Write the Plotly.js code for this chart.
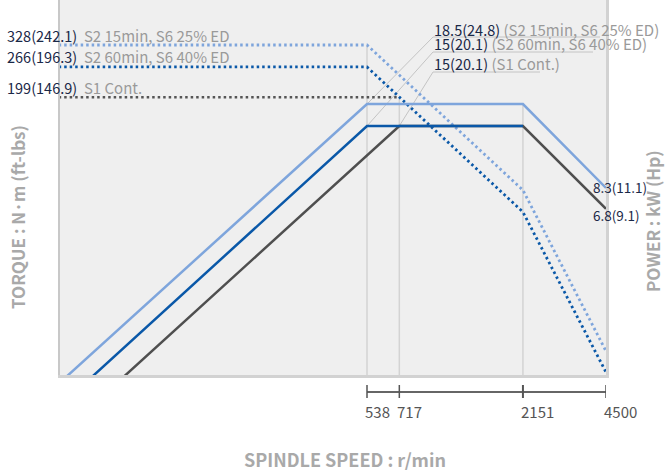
<!DOCTYPE html>
<html>
<head>
<meta charset="utf-8">
<script src="https://cdn.plot.ly/plotly-3.0.1.min.js"></script>
<style>html,body{margin:0;padding:0;background:#fff;}#chart{width:667px;height:473px;}</style>
</head>
<body>
<div id="chart"></div>
<script>
// ---- data ----
const speedTicks = [538, 717, 2151, 4500];
const speedTickLabels = ['538', '717', '2151', '4500'];

// power curves (kW)
const powS2_15_speed = [27, 538, 2151, 4500];
const powS2_15 = [1.0, 18.5, 18.5, 8.3];
const powS2_60_speed = [34, 538, 2151];
const powS2_60 = [1.0, 15, 15];
const powS1_speed = [45, 717, 2151, 4500];
const powS1 = [1.0, 15, 15, 6.8];

// torque curves (N·m)
const trqS2_15_speed = [30, 538, 2151, 4500];
const trqS2_15 = [328, 328, 82, 17.6];
const trqS2_60_speed = [30, 538, 2151, 4500];
const trqS2_60 = [266, 266, 66.5, 14.4];
const trqS1_speed = [30, 717];
const trqS1 = [199, 199];

// labels
const torqueLabels = ['328(242.1)', '266(196.3)', '199(146.9)'];
const torqueValues = [328, 266, 199];
const dutyNames = ['S2 15min, S6 25% ED', 'S2 60min, S6 40% ED', 'S1 Cont.'];
const powerLabels = ['18.5(24.8)', '15(20.1)', '15(20.1)'];
const powerLabelSpeed = [538, 538, 717];
const powerLabelValue = [18.5, 15, 15];
const endLabels = ['8.3(11.1)', '6.8(9.1)'];
const endValues = [8.3, 6.8];

// ---- styling ----
const LIGHT = '#7ea5dc', DARK = '#0a58a8', GREY = '#4f4f4f', NAVY = '#1a2847', TXTG = '#9a9a9a';
const FONT = '"Noto Sans CJK KR", "Noto Sans", sans-serif';
const W = 667, H = 473, ML = 60, MR = 61, MT = 0, MB = 98;
const PW = W - ML - MR, PH = H - MT - MB;
const xRange = [1.5459, Math.log10(4500)];
const yTRange = [1.1466, 2.7026];
const yPRange = [0.1429, 1.6989];
const px2paperX = p => (p - ML) / PW;
const px2paperY = p => (H - MB - p) / PH;
const px2speed = p => Math.pow(10, xRange[0] + (p - ML) / PW * (xRange[1] - xRange[0]));
const px2power = p => Math.pow(10, yPRange[1] - (p - MT) / PH * (yPRange[1] - yPRange[0]));

const dotDash = '2.5px,3px';
const traces = [
  {x: powS2_15_speed, y: powS2_15, yaxis: 'y2', mode: 'lines', line: {color: LIGHT, width: 2.5}},
  {x: powS1_speed, y: powS1, yaxis: 'y2', mode: 'lines', line: {color: GREY, width: 2.5}},
  {x: powS2_60_speed, y: powS2_60, yaxis: 'y2', mode: 'lines', line: {color: DARK, width: 2.5}},
  {x: trqS1_speed, y: trqS1, yaxis: 'y', mode: 'lines', line: {color: '#555555', width: 2.5, dash: dotDash}},
  {x: trqS2_15_speed, y: trqS2_15, yaxis: 'y', mode: 'lines', line: {color: LIGHT, width: 2.8, dash: dotDash}},
  {x: trqS2_60_speed, y: trqS2_60, yaxis: 'y', mode: 'lines', line: {color: DARK, width: 2.8, dash: dotDash}}
];

const shapes = [];
// drop lines
const yTBottom = Math.pow(10, yTRange[0]);
const yPBottom = Math.pow(10, yPRange[0]);
shapes.push({type: 'line', layer: 'below', xref: 'x', yref: 'y', x0: speedTicks[0], x1: speedTicks[0], y0: yTBottom, y1: trqS2_15[1], line: {color: '#d3d3d3', width: 1.5}});
shapes.push({type: 'line', layer: 'below', xref: 'x', yref: 'y', x0: speedTicks[1], x1: speedTicks[1], y0: yTBottom, y1: trqS1[1], line: {color: '#d3d3d3', width: 1.5}});
shapes.push({type: 'line', layer: 'below', xref: 'x', yref: 'y2', x0: speedTicks[2], x1: speedTicks[2], y0: yPBottom, y1: powS2_15[2], line: {color: '#d3d3d3', width: 1.5}});
// custom speed axis below the plot
const axY = px2paperY(392);
shapes.push({type: 'line', xref: 'x', yref: 'paper', x0: speedTicks[0], x1: speedTicks[3], y0: axY, y1: axY, line: {color: '#666', width: 2}});
speedTicks.forEach((s, i) => {
  shapes.push({type: 'line', xref: 'x', yref: 'paper', x0: s, x1: s, y0: px2paperY(385), y1: px2paperY(398), line: {color: '#555', width: i === 2 ? 2 : 1.5}});
});
// leader lines: diagonal from the curve corner, then underline
const ulY = [37, 52, 72], ulEnd = [600, 593, 540], ulX = 433;
ulY.forEach((y, i) => {
  shapes.push({type: 'line', layer: 'below', xref: 'x', yref: 'y2', x0: powerLabelSpeed[i], y0: powerLabelValue[i],
    x1: px2speed(ulX), y1: px2power(y), line: {color: '#c4c4c4', width: 1}});
  shapes.push({type: 'line', xref: 'paper', yref: 'paper', x0: px2paperX(ulX), x1: px2paperX(ulEnd[i]), y0: px2paperY(y), y1: px2paperY(y), line: {color: '#c4c4c4', width: 1}});
});

const annotations = [];
const navy = t => '<span style="color:' + NAVY + ';font-size:14.5px">' + t + '</span>';
// left torque labels
torqueLabels.forEach((t, i) => {
  annotations.push({xref: 'paper', yref: 'y', x: px2paperX(5), y: Math.log10(torqueValues[i]), yshift: 10,
    xanchor: 'left', yanchor: 'middle', showarrow: false,
    text: navy(t) + '  ' + dutyNames[i],
    font: {family: FONT, size: 15, color: TXTG}});
});
// top right power labels
const labelCY = [29, 44, 64];
powerLabels.forEach((t, i) => {
  annotations.push({xref: 'paper', yref: 'paper', x: px2paperX(ulX - 1), y: px2paperY(labelCY[i]),
    xanchor: 'left', yanchor: 'middle', showarrow: false,
    text: navy(t) + ' (' + dutyNames[i] + ')',
    font: {family: FONT, size: 15, color: TXTG}});
});
// right end labels
const endShifts = [1, -6];
endLabels.forEach((t, i) => {
  annotations.push({xref: 'x', yref: 'y2', x: Math.log10(4500), y: Math.log10(endValues[i]), xshift: -15, yshift: endShifts[i],
    xanchor: 'left', yanchor: 'middle', showarrow: false, text: t, font: {family: FONT, size: 13.5, color: NAVY}});
});
// speed tick labels
speedTicks.forEach((s, i) => {
  annotations.push({xref: 'x', yref: 'paper', x: Math.log10(s), y: px2paperY(411), xshift: -4,
    xanchor: 'left', yanchor: 'middle', showarrow: false, text: speedTickLabels[i], font: {family: FONT, size: 15, color: '#555'}});
});
// axis titles
annotations.push({xref: 'paper', yref: 'paper', x: px2paperX(345), y: px2paperY(459), showarrow: false,
  xanchor: 'center', yanchor: 'middle',
  text: '<b>SPINDLE SPEED : r/min</b>', font: {family: FONT, size: 18, color: '#a9a9a9'}});
annotations.push({xref: 'paper', yref: 'paper', x: px2paperX(17), y: px2paperY(217), showarrow: false, textangle: -90,
  xanchor: 'center', yanchor: 'middle',
  text: '<b>TORQUE : N·m (ft-lbs)</b>', font: {family: FONT, size: 17, color: '#a9a9a9'}});
annotations.push({xref: 'paper', yref: 'paper', x: px2paperX(653), y: px2paperY(221), showarrow: false, textangle: -90,
  xanchor: 'center', yanchor: 'middle',
  text: '<b>POWER : kW (Hp)</b>', font: {family: FONT, size: 17, color: '#a9a9a9'}});

const layout = {
  width: W, height: H,
  margin: {l: ML, r: MR, t: MT, b: MB},
  paper_bgcolor: '#ffffff', plot_bgcolor: '#efefef',
  showlegend: false,
  xaxis: {type: 'log', range: xRange, showgrid: false, zeroline: false, showticklabels: false, ticks: '',
    showline: true, linecolor: '#d2d2d2', linewidth: 3},
  yaxis: {type: 'log', range: yTRange, showgrid: false, zeroline: false, showticklabels: false, ticks: '',
    showline: true, linecolor: '#c8c8c8', linewidth: 2.5},
  yaxis2: {type: 'log', range: yPRange, overlaying: 'y', side: 'right', showgrid: false, zeroline: false,
    showticklabels: false, ticks: '', showline: true, linecolor: '#d2d2d2', linewidth: 3},
  shapes: shapes,
  annotations: annotations,
  font: {family: FONT}
};

Plotly.newPlot('chart', traces, layout, {displayModeBar: false, staticPlot: true});
</script>
</body>
</html>
